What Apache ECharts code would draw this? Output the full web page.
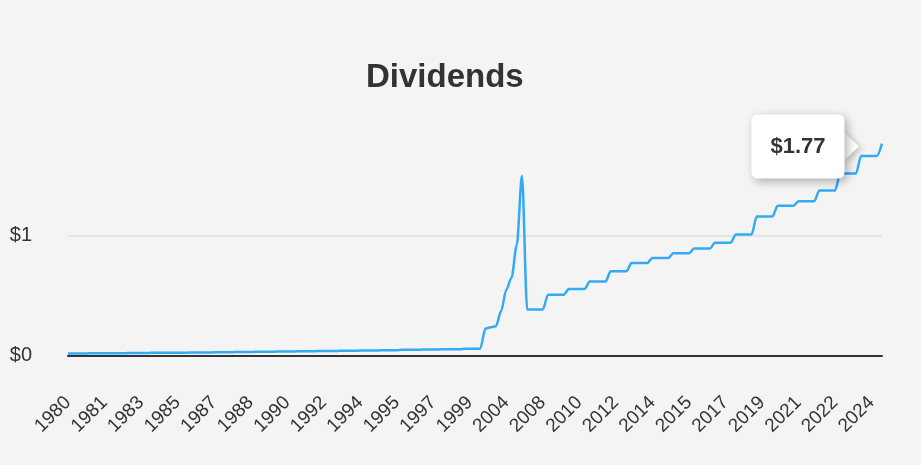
<!DOCTYPE html>
<html>
<head>
<meta charset="utf-8">
<script src="https://cdn.jsdelivr.net/npm/echarts@6/dist/echarts.min.js"></script>
<style>
html,body{margin:0;padding:0;background:#f4f4f4;}
#chart{width:921px;height:465px;}
</style>
</head>
<body>
<div id="chart"></div>
<script>
// One category per data point (quarterly, with gaps in the 2000s)
const periods = [
 '1980','1980','1980','1980','1981','1981','1981','1981','1982','1982','1982','1982',
 '1983','1983','1983','1983','1984','1984','1984','1984','1985','1985','1985','1985',
 '1986','1986','1986','1986','1987','1987','1987','1987','1988','1988','1988','1988',
 '1989','1989','1989','1989','1990','1990','1990','1990','1991','1991','1991','1991',
 '1992','1992','1992','1992','1993','1993','1993','1993','1994','1994','1994','1994',
 '1995','1995','1995','1995','1996','1996','1996','1996','1997','1997','1997','1997',
 '1998','1998','1998','1998','1999','1999','1999','1999',
 '2000','2001','2002','2003','2004','2005','2006','2007',
 '2008','2008','2008','2008','2009','2009','2009','2009','2010','2010','2010','2010',
 '2011','2011','2011','2011','2012','2012','2012','2012','2013','2013','2013','2013',
 '2014','2014','2014','2014','2015','2015','2015','2015','2016','2016','2016','2016',
 '2017','2017','2017','2017','2018','2018','2018','2018','2019','2019','2019','2019',
 '2020','2020','2020','2020','2021','2021','2021','2021','2022','2022','2022','2022',
 '2023','2023','2023','2023','2024','2024','2024','2024','2025'
];

const dividends = [
 0.016,0.016,0.016,0.016,0.018,0.018,0.018,0.018,0.019,0.019,0.019,0.019,
 0.021,0.021,0.021,0.021,0.022,0.022,0.022,0.022,0.024,0.024,0.024,0.024,
 0.025,0.025,0.025,0.025,0.027,0.027,0.027,0.027,0.029,0.029,0.029,0.029,
 0.031,0.031,0.031,0.031,0.033,0.033,0.033,0.033,0.035,0.035,0.035,0.035,
 0.037,0.037,0.037,0.037,0.039,0.039,0.039,0.039,0.041,0.041,0.041,0.041,
 0.044,0.044,0.044,0.044,0.047,0.047,0.047,0.047,0.050,0.050,0.050,0.050,
 0.053,0.053,0.053,0.053,0.057,0.057,0.057,0.057,
 0.225,0.235,0.245,0.37,0.55,0.65,0.92,1.5,
 0.385,0.385,0.385,0.385,0.508,0.508,0.508,0.508,0.556,0.556,0.556,0.556,
 0.617,0.617,0.617,0.617,0.703,0.703,0.703,0.703,0.772,0.772,0.772,0.772,
 0.814,0.814,0.814,0.814,0.853,0.853,0.853,0.853,0.894,0.894,0.894,0.894,
 0.942,0.942,0.942,0.942,1.011,1.011,1.011,1.011,1.161,1.161,1.161,1.161,
 1.25,1.25,1.25,1.25,1.289,1.289,1.289,1.289,1.378,1.378,1.378,1.378,
 1.52,1.52,1.52,1.52,1.667,1.667,1.667,1.667,1.77
];

const yTicks = [0, 1, 2];
const lastIndex = dividends.length - 1;
const lastValue = dividends[lastIndex];
const FONT = '"Liberation Sans", Arial, sans-serif';

const chart = echarts.init(document.getElementById('chart'), null, {renderer: 'canvas'});
chart.setOption({
  animation: false,
  backgroundColor: '#f4f4f4',
  textStyle: {fontFamily: FONT},
  title: {
    text: 'Dividends',
    left: 366,
    top: 61,
    padding: 0,
    textStyle: {fontSize: 33, fontWeight: 'bold', color: '#333', fontFamily: FONT}
  },
  grid: {left: 68, right: 39, top: 116, bottom: 109.5, containLabel: false},
  xAxis: {
    type: 'category',
    data: periods,
    boundaryGap: false,
    axisLine: {show: true, lineStyle: {color: '#333', width: 2}},
    axisTick: {show: false},
    axisLabel: {
      interval: 6,
      rotate: 45,
      margin: 44,
      fontSize: 19,
      color: '#333',
      fontFamily: FONT
    },
    splitLine: {show: false}
  },
  yAxis: {
    type: 'value',
    min: yTicks[0],
    max: yTicks[yTicks.length - 1],
    interval: 1,
    axisLine: {show: false},
    axisTick: {show: false},
    axisLabel: {
      margin: 36,
      fontSize: 20,
      color: '#333',
      fontFamily: FONT,
      padding: [7, 0, 0, 0],
      formatter: v => (v === yTicks[yTicks.length - 1] ? '' : '$' + v)
    },
    splitLine: {show: true, lineStyle: {color: ['#e4e4e4', '#e4e4e4', 'rgba(0,0,0,0)'], width: 2}}
  },
  series: [{
    type: 'line',
    data: dividends,
    showSymbol: false,
    smooth: 0.3,
    smoothMonotone: 'x',
    lineStyle: {color: '#33aaf5', width: 2.5},
    itemStyle: {color: '#33aaf5'},
    markPoint: {
      silent: true,
      data: [
        {
          coord: [lastIndex, lastValue],
          value: lastValue,
          symbol: 'rect',
          symbolSize: 1,
          itemStyle: {color: 'rgba(0,0,0,0)'},
          label: {
            show: true,
            position: 'left',
            distance: 37,
            offset: [0, 3],
            formatter: p => '$' + Number(p.value).toFixed(2),
            backgroundColor: '#ffffff',
            borderRadius: 6,
            padding: [21, 19, 21, 19],
            fontSize: 22,
            fontWeight: 'bold',
            color: '#333',
            fontFamily: FONT,
            shadowBlur: 10,
            shadowColor: 'rgba(0,0,0,0.3)',
            shadowOffsetX: 3,
            shadowOffsetY: 3
          }
        },
        {
          coord: [lastIndex, lastValue],
          symbol: 'triangle',
          symbolSize: [30, 16],
          symbolRotate: -90,
          symbolOffset: [-31, 3],
          itemStyle: {color: '#ffffff', shadowBlur: 6, shadowColor: 'rgba(0,0,0,0.2)', shadowOffsetX: 3, shadowOffsetY: 2},
          label: {show: false}
        }
      ]
    }
  }]
});
</script>
</body>
</html>
